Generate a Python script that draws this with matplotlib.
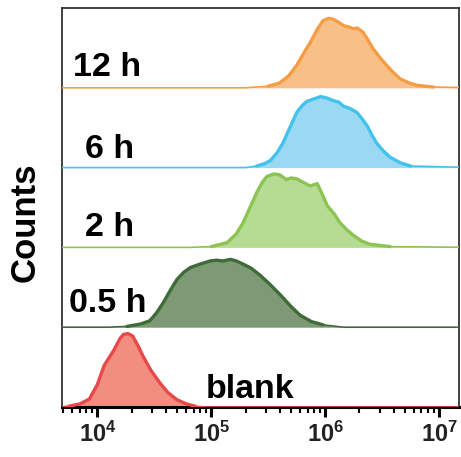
import numpy as np
import matplotlib
matplotlib.use("Agg")
import matplotlib.pyplot as plt

plt.rcParams['font.family'] = ['Liberation Sans', 'DejaVu Sans']
plt.rcParams['font.weight'] = 'bold'
plt.rcParams['mathtext.fontset'] = 'custom'
plt.rcParams['mathtext.bf'] = 'Liberation Sans:bold'
plt.rcParams['mathtext.rm'] = 'Liberation Sans:bold'
plt.rcParams['mathtext.default'] = 'bf'

#__ Histogram traces (log10 fluorescence, height as fraction of one row) ____
labels = ["blank", "0.5 h", "2 h", "6 h", "12 h"]

log_blank = [3.62, 3.75, 3.85, 3.93, 4.00, 4.06, 4.14, 4.20, 4.23, 4.27, 4.31, 4.36, 4.40, 4.47, 4.55, 4.62, 4.70, 4.78, 4.86, 4.95, 5.2, 7.3]
h_blank   = [0.00, 0.01, 0.04, 0.10, 0.28, 0.52, 0.70, 0.86, 0.91, 0.92, 0.89, 0.76, 0.64, 0.46, 0.30, 0.18, 0.09, 0.04, 0.01, 0.00, 0.00, 0.00]

log_05 = [3.62, 4.10, 4.26, 4.38, 4.46, 4.52, 4.58, 4.64, 4.70, 4.76, 4.82, 4.90, 4.99, 5.05, 5.10, 5.17, 5.22, 5.28, 5.35, 5.43, 5.52, 5.61, 5.70, 5.78, 5.88, 5.98, 6.16, 7.3]
h_05   = [0.00, 0.00, 0.01, 0.04, 0.08, 0.18, 0.31, 0.46, 0.60, 0.69, 0.75, 0.79, 0.83, 0.84, 0.83, 0.85, 0.83, 0.79, 0.74, 0.65, 0.53, 0.40, 0.26, 0.15, 0.07, 0.03, 0.00, 0.00]

log_2 = [3.62, 4.80, 5.00, 5.14, 5.22, 5.28, 5.34, 5.40, 5.45, 5.49, 5.55, 5.60, 5.66, 5.70, 5.75, 5.80, 5.87, 5.93, 5.97, 6.02, 6.08, 6.13, 6.19, 6.25, 6.32, 6.39, 6.57, 7.3]
h_2   = [0.00, 0.00, 0.01, 0.06, 0.17, 0.31, 0.50, 0.69, 0.82, 0.89, 0.92, 0.91, 0.85, 0.87, 0.86, 0.82, 0.77, 0.80, 0.68, 0.52, 0.42, 0.31, 0.22, 0.15, 0.08, 0.04, 0.01, 0.00]

log_6 = [3.62, 4.70, 5.10, 5.30, 5.40, 5.47, 5.52, 5.58, 5.63, 5.69, 5.75, 5.80, 5.84, 5.90, 5.96, 6.02, 6.07, 6.12, 6.16, 6.22, 6.28, 6.33, 6.37, 6.41, 6.45, 6.51, 6.57, 6.66, 6.75, 7.3]
h_6   = [0.00, 0.00, 0.00, 0.00, 0.02, 0.05, 0.09, 0.19, 0.31, 0.50, 0.69, 0.78, 0.83, 0.86, 0.89, 0.87, 0.84, 0.82, 0.77, 0.74, 0.69, 0.60, 0.52, 0.41, 0.31, 0.21, 0.13, 0.06, 0.02, 0.00]

log_12 = [3.62, 4.90, 5.30, 5.50, 5.60, 5.68, 5.75, 5.81, 5.87, 5.93, 5.98, 6.03, 6.07, 6.12, 6.16, 6.21, 6.25, 6.28, 6.33, 6.38, 6.42, 6.48, 6.54, 6.60, 6.66, 6.74, 6.81, 6.95, 7.3]
h_12   = [0.00, 0.00, 0.00, 0.02, 0.06, 0.15, 0.28, 0.43, 0.57, 0.73, 0.84, 0.87, 0.86, 0.82, 0.78, 0.76, 0.74, 0.75, 0.70, 0.59, 0.49, 0.38, 0.28, 0.19, 0.11, 0.06, 0.03, 0.01, 0.00]

traces = [(log_blank, h_blank), (log_05, h_05), (log_2, h_2), (log_6, h_6), (log_12, h_12)]

edge_cols = ["#E9484A", "#3E6B39", "#8CC453", "#43C2EC", "#F59C45"]
fill_cols = ["#F28E7F", "#7E9A74", "#B6DB92", "#9BD8F4", "#F8C087"]

# label anchors (log10 x, height above row baseline)
lab_x = [4.95, 3.755, 3.895, 3.895, 3.79]
lab_y = [0.11, 0.19, 0.14, 0.125, 0.15]

fig = plt.figure(figsize=(4.61, 4.57), dpi=100)
ax = fig.add_axes([0.1345, 0.1094, 0.8612, 0.8731])

for i, (lg, hh) in enumerate(traces):
    x = 10 ** np.array(lg)
    hh = np.array(hh)
    y = hh + i
    ax.fill_between(x, i, y, color=fill_cols[i], lw=0, zorder=2)
    # thin baseline across the row, thick outline only over the peak
    ax.plot(x, y, color=edge_cols[i], lw=1.2, zorder=3)
    nz = np.nonzero(hh > 0)[0]
    a, b = nz[0], nz[-1] + 1
    ax.plot(x[a:b], y[a:b], color=edge_cols[i], lw=2.4, zorder=3,
            solid_joinstyle='round', solid_capstyle='round')
    ax.text(10 ** lab_x[i], i + lab_y[i], labels[i], fontsize=24.5,
            fontweight='bold', ha='left', va='baseline', zorder=4)

ax.set_xscale('log')
ax.set_xlim(10 ** 3.69, 10 ** 7.175)
ax.set_ylim(0, 5)
ax.set_yticks([])
fig.text(25 / 461, 1 - 222 / 457, "Counts", fontsize=25, fontweight='bold',
         rotation=90, ha='center', va='center')

for s in ['top', 'left', 'right']:
    ax.spines[s].set_linewidth(1.3)
    ax.spines[s].set_color('#333333')
ax.spines['bottom'].set_linewidth(2.2)

ax.tick_params(axis='x', which='major', direction='out', length=7.5, width=2.2,
               labelsize=17, pad=3, labelcolor='#222222')
ax.tick_params(axis='x', which='minor', direction='out', length=4, width=1.5)

fig.savefig("out.png", dpi=100)
